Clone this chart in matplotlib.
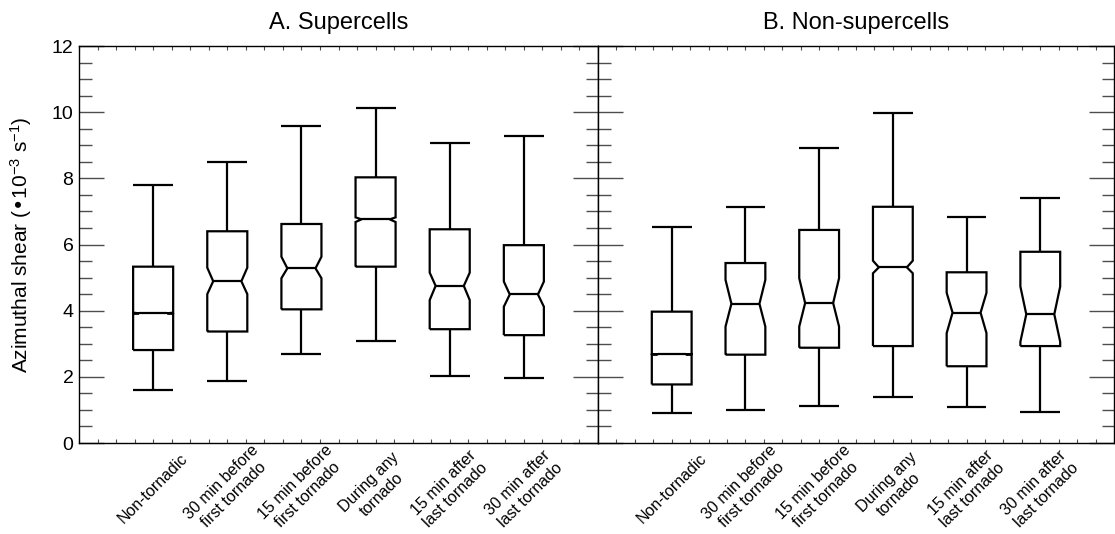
import numpy as np
import matplotlib
matplotlib.use('Agg')
import matplotlib.pyplot as plt
from matplotlib.ticker import MultipleLocator

plt.rcParams['font.family'] = ['Liberation Sans', 'DejaVu Sans']
plt.rcParams['mathtext.default'] = 'regular'

# Categories (tick labels)
categories = ['Non-tornadic', '30 min before\nfirst tornado', '15 min before\nfirst tornado',
              'During any\ntornado', '15 min after\nlast tornado', '30 min after\nlast tornado']

# A. Supercells box statistics
sc_whislo = [1.60, 1.86, 2.69, 3.09, 2.03, 1.96]
sc_q1     = [2.81, 3.37, 4.04, 5.33, 3.44, 3.26]
sc_cilo   = [3.90, 4.50, 4.98, 6.68, 4.32, 4.12]
sc_med    = [3.92, 4.89, 5.28, 6.76, 4.75, 4.49]
sc_cihi   = [3.94, 5.30, 5.63, 6.82, 5.15, 4.88]
sc_q3     = [5.33, 6.40, 6.62, 8.03, 6.46, 5.98]
sc_whishi = [7.80, 8.49, 9.58, 10.12, 9.06, 9.28]

# B. Non-supercells box statistics
ns_whislo = [0.90, 1.00, 1.13, 1.40, 1.10, 0.94]
ns_q1     = [1.77, 2.67, 2.88, 2.93, 2.32, 2.93]
ns_cilo   = [2.67, 3.52, 3.52, 5.13, 3.32, 3.06]
ns_med    = [2.68, 4.21, 4.23, 5.31, 3.94, 3.89]
ns_cihi   = [2.69, 4.93, 4.98, 5.51, 4.54, 4.73]
ns_q3     = [3.97, 5.44, 6.44, 7.14, 5.16, 5.78]
ns_whishi = [6.52, 7.12, 8.91, 9.97, 6.84, 7.42]


def notched_box(ax, x, lo, q1, cilo, med, cihi, q3, hi, w=0.54, nw=0.38):
    hw, nh = w / 2, nw / 2
    kw = dict(color='black', lw=1.6, solid_joinstyle='miter', solid_capstyle='butt')
    xs = [x - hw, x + hw, x + hw, x + nh, x + hw, x + hw, x - hw, x - hw, x - nh, x - hw, x - hw]
    ys = [q1, q1, cilo, med, cihi, q3, q3, cihi, med, cilo, q1]
    ax.plot(xs, ys, **kw)
    ax.plot([x - nh, x + nh], [med, med], **kw)
    # whiskers and caps
    ax.plot([x, x], [q3, hi], **kw)
    ax.plot([x, x], [lo, q1], **kw)
    ax.plot([x - hw, x + hw], [hi, hi], **kw)
    ax.plot([x - hw, x + hw], [lo, lo], **kw)


fig = plt.figure(figsize=(11.15, 5.34), dpi=100)
ax1 = fig.add_axes([79 / 1115, 1 - 443 / 534, (598 - 79) / 1115, (443 - 46) / 534])
ax2 = fig.add_axes([598 / 1115, 1 - 443 / 534, (1114 - 598) / 1115, (443 - 46) / 534])

panels = [
    (ax1, 'A. Supercells', sc_whislo, sc_q1, sc_cilo, sc_med, sc_cihi, sc_q3, sc_whishi),
    (ax2, 'B. Non-supercells', ns_whislo, ns_q1, ns_cilo, ns_med, ns_cihi, ns_q3, ns_whishi),
]

for ax, title, lo, q1, cl, md, ch, q3, hi in panels:
    pos = np.arange(1, len(categories) + 1)
    for i, p in enumerate(pos):
        notched_box(ax, p, lo[i], q1[i], cl[i], md[i], ch[i], q3[i], hi[i])

    ax.set_xlim(0, 7)
    ax.set_ylim(0, 12)
    ax.set_title(title, fontsize=17, pad=12)

    ax.yaxis.set_major_locator(MultipleLocator(2))
    ax.yaxis.set_minor_locator(MultipleLocator(0.5))
    ax.tick_params(axis='y', which='major', direction='in', length=18, width=1,
                   color='0.3', left=True, right=True, labelsize=14, pad=4)
    ax.tick_params(axis='y', which='minor', direction='in', length=9, width=1,
                   color='0.3', left=True, right=True)

    ax.set_xticks(pos)
    ax.set_xticklabels(categories, rotation=45, ha='center', va='center',
                       rotation_mode='anchor', multialignment='center', fontsize=11.5)
    ax.xaxis.set_minor_locator(MultipleLocator(0.25))
    ax.tick_params(axis='x', which='both', direction='in', length=3, width=0.8,
                   color='0.3', top=True, bottom=True, pad=33)

    for s in ax.spines.values():
        s.set_linewidth(1)
        s.set_color('black')

ax1.set_ylabel('Azimuthal shear (•10$^{-3}$ s$^{-1}$)', fontsize=15, labelpad=13)
ax2.tick_params(axis='y', which='both', labelleft=False)

fig.savefig('out.png', dpi=100)
